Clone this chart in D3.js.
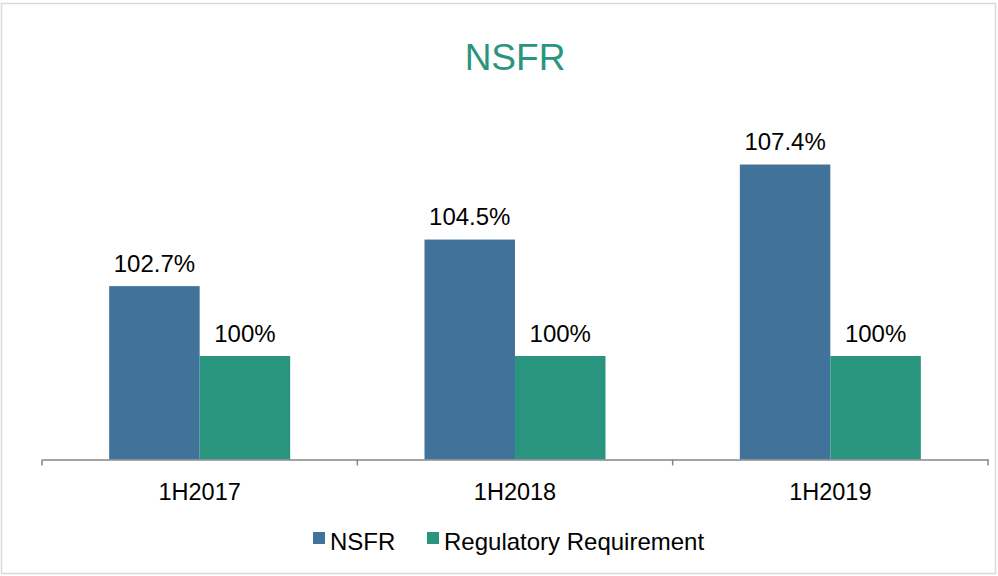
<!DOCTYPE html>
<html>
<head>
<meta charset="utf-8">
<script src="https://cdn.jsdelivr.net/npm/d3@7"></script>
<style>
  body { margin: 0; background: #fff; }
  text { font-family: "Liberation Sans", Arial, sans-serif; }
</style>
</head>
<body>
<div id="container"></div>
<script>
/* DATA */
const periods = ["1H2017", "1H2018", "1H2019"];
const seriesNames = ["NSFR", "Regulatory Requirement"];
const nsfrValues = [102.7, 104.5, 107.4];
const requirementValues = [100, 100, 100];
const nsfrLabels = ["102.7%", "104.5%", "107.4%"];
const requirementLabels = ["100%", "100%", "100%"];

const width = 998, height = 576;
const colors = ["#41729A", "#2A957E"];

const rows = periods.map((p, i) => ({
  period: p,
  values: [
    { key: seriesNames[0], value: nsfrValues[i], label: nsfrLabels[i] },
    { key: seriesNames[1], value: requirementValues[i], label: requirementLabels[i] }
  ]
}));

const svg = d3.select("#container")
  .append("svg")
  .attr("width", width)
  .attr("height", height);

// chart border
svg.append("rect")
  .attr("x", 1.5).attr("y", 3.5)
  .attr("width", width - 4).attr("height", height - 6)
  .attr("fill", "none")
  .attr("stroke", "#d9d9d9")
  .attr("stroke-width", 1.5);

// title
svg.append("text")
  .attr("x", 515).attr("y", 69.5)
  .attr("text-anchor", "middle")
  .attr("fill", "#2A957E")
  .style("font-size", "37px")
  .text("NSFR");

/* SCALES */
const baseY = 459.5;
const xScale = d3.scaleBand()
  .domain(periods)
  .range([42, 988]);

const groupWidth = 181;
const x1 = d3.scaleBand()
  .domain(seriesNames)
  .range([0, groupWidth]);

const yScale = d3.scaleLinear()
  .domain([96, 108])
  .range([baseY, 149]);

const colorScale = d3.scaleOrdinal()
  .domain(seriesNames)
  .range(colors);

const offset = (xScale.bandwidth() - groupWidth) / 2;

/* BARS */
const groups = svg.selectAll("g.group")
  .data(rows)
  .join("g")
  .attr("class", "group")
  .attr("transform", d => `translate(${xScale(d.period) + offset},0)`);

groups.selectAll("rect")
  .data(d => d.values)
  .join("rect")
  .attr("x", d => x1(d.key))
  .attr("y", d => yScale(d.value))
  .attr("width", x1.bandwidth())
  .attr("height", d => baseY - yScale(d.value))
  .attr("fill", d => colorScale(d.key));

groups.selectAll("text.lbl")
  .data(d => d.values)
  .join("text")
  .attr("class", "lbl")
  .attr("x", d => x1(d.key) + x1.bandwidth() / 2)
  .attr("y", d => yScale(d.value) - 14.5)
  .attr("text-anchor", "middle")
  .attr("fill", "#000")
  .style("font-size", "24px")
  .text(d => d.label);

/* AXIS */
const xAxis = d3.axisBottom(xScale)
  .tickSize(0)
  .tickPadding(0);

const axisG = svg.append("g")
  .attr("transform", `translate(0,${baseY})`)
  .call(xAxis);
axisG.select(".domain").attr("stroke", "#868686").attr("stroke-width", 1.5);
axisG.selectAll(".tick text")
  .attr("y", 40)
  .attr("dy", 0)
  .attr("fill", "#000")
  .style("font-size", "23.5px")
  .style("font-family", "'Liberation Sans', Arial, sans-serif");

// category boundary ticks
const boundaries = periods.map(p => xScale(p)).concat([xScale.range()[1]]);
axisG.selectAll("line.bound")
  .data(boundaries)
  .join("line")
  .attr("class", "bound")
  .attr("x1", d => d).attr("x2", d => d)
  .attr("y1", 0).attr("y2", 6)
  .attr("stroke", "#868686")
  .attr("stroke-width", 1.5);

/* LEGEND */
const legendX = [313, 427];
const legend = svg.selectAll("g.legend")
  .data(seriesNames)
  .join("g")
  .attr("class", "legend")
  .attr("transform", (d, i) => `translate(${legendX[i]},532)`);

legend.append("rect")
  .attr("width", 12).attr("height", 12)
  .attr("fill", d => colorScale(d));

legend.append("text")
  .attr("x", 17).attr("y", 17.5)
  .attr("fill", "#000")
  .style("font-size", "24px")
  .text(d => d);
</script>
</body>
</html>
